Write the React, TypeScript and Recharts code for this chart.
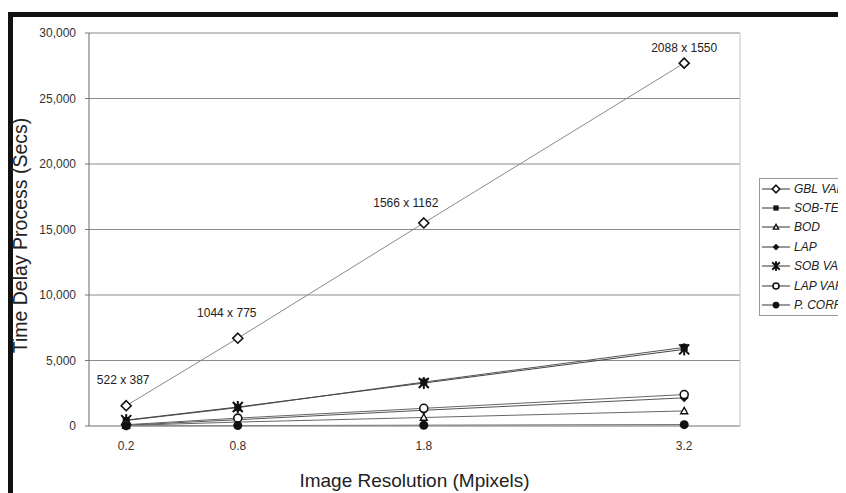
import React from 'react';
import {
  LineChart, Line, XAxis, YAxis, CartesianGrid, LabelList, ReferenceLine,
} from 'recharts';

// image resolution in Mpixels
const resolutions = [0.2, 0.8, 1.8, 3.2];
const sizeLabels = ['522 x 387', '1044 x 775', '1566 x 1162', '2088 x 1550'];

// time delay (secs) per method
const gblVar = [1550, 6700, 15500, 27700];
const sobTen = [420, 1400, 3350, 6000];
const bod = [40, 300, 650, 1150];
const lap = [60, 480, 1200, 2150];
const sobVar = [450, 1450, 3280, 5850];
const lapVar = [100, 600, 1350, 2400];
const pCorr = [10, 30, 60, 100];

const yTicks = [0, 5000, 10000, 15000, 20000, 25000, 30000];

const data = resolutions.map((res, i) => ({
  res,
  size: sizeLabels[i],
  gbl: gblVar[i],
  sobTen: sobTen[i],
  bod: bod[i],
  lap: lap[i],
  sobVar: sobVar[i],
  lapVar: lapVar[i],
  pcorr: pCorr[i],
}));

const series = [
  { key: 'gbl', name: 'GBL VAR', marker: 'diamondOpen', color: '#8a8a8a' },
  { key: 'sobTen', name: 'SOB-TEN', marker: 'square', color: '#555' },
  { key: 'bod', name: 'BOD', marker: 'triangle', color: '#666' },
  { key: 'lap', name: 'LAP', marker: 'diamond', color: '#555' },
  { key: 'sobVar', name: 'SOB VAR', marker: 'star', color: '#444' },
  { key: 'lapVar', name: 'LAP VAR', marker: 'circleOpen', color: '#666' },
  { key: 'pcorr', name: 'P. CORR', marker: 'circle', color: '#555' },
];

const FONT = '"Liberation Sans", Arial, sans-serif';

function Marker({ kind, cx, cy, s = 1 }: { kind: string; cx: number; cy: number; s?: number }) {
  const ink = '#111';
  switch (kind) {
    case 'diamondOpen': {
      const r = 5 * s;
      return <path d={`M${cx},${cy - r}L${cx + r},${cy}L${cx},${cy + r}L${cx - r},${cy}Z`} fill="#fff" stroke={ink} strokeWidth={1.6} />;
    }
    case 'diamond': {
      const r = 4.5 * s;
      return <path d={`M${cx},${cy - r}L${cx + r},${cy}L${cx},${cy + r}L${cx - r},${cy}Z`} fill={ink} />;
    }
    case 'square': {
      const r = 3.5 * s;
      return <rect x={cx - r} y={cy - r} width={2 * r} height={2 * r} fill={ink} />;
    }
    case 'triangle': {
      const r = 3.5 * s;
      return <path d={`M${cx},${cy - r}L${cx + r},${cy + r * 0.8}L${cx - r},${cy + r * 0.8}Z`} fill="#fff" stroke={ink} strokeWidth={1.4} />;
    }
    case 'star': {
      const r = 5 * s;
      return (
        <g stroke={ink} strokeWidth={2}>
          <line x1={cx - r} y1={cy - r} x2={cx + r} y2={cy + r} />
          <line x1={cx - r} y1={cy + r} x2={cx + r} y2={cy - r} />
          <line x1={cx} y1={cy - r - 1} x2={cx} y2={cy + r + 1} />
        </g>
      );
    }
    case 'circleOpen':
      return <circle cx={cx} cy={cy} r={4 * s} fill="#fff" stroke={ink} strokeWidth={1.6} />;
    default:
      return <circle cx={cx} cy={cy} r={4.5 * s} fill={ink} />;
  }
}

// nudges for the resolution labels above the GBL VAR points
const labelDx = [-3, -11, -18, 0];
const labelDy = [-26, -25, -20, -15];

const SizeLabel = (props: any) => {
  const { x, y, value, index } = props;
  return (
    <text x={x + labelDx[index]} y={y + labelDy[index]} textAnchor="middle" dominantBaseline="central"
      fontSize={12} fill="#222" fontFamily={FONT}>
      {value}
    </text>
  );
};

const YTitle = (props: any) => {
  const { viewBox } = props;
  const cx = 12;
  const cy = viewBox.y + viewBox.height / 2 + 6;
  return (
    <text x={cx} y={cy} transform={`rotate(-90 ${cx} ${cy})`} textAnchor="middle"
      dominantBaseline="central" fontSize={19.5} fill="#222" fontFamily={FONT}>
      Time Delay Process (Secs)
    </text>
  );
};

const LegendBox = () => (
  <div style={{
    position: 'absolute', left: 751, top: 170, border: '1px solid #999',
    background: '#fff', width: 140, fontFamily: FONT,
  }}>
    {series.map((s) => (
      <div key={s.key} style={{ display: 'flex', alignItems: 'center', height: 19.4 }}>
        <svg width={30} height={12} style={{ marginLeft: 2, marginRight: 2 }}>
          <line x1={0} y1={6} x2={28} y2={6} stroke="#333" strokeWidth={1} />
          <Marker kind={s.marker} cx={14} cy={6} s={0.75} />
        </svg>
        <span style={{ fontStyle: 'italic', fontSize: 12, color: '#222' }}>{s.name}</span>
      </div>
    ))}
  </div>
);

export default function App() {
  return (
    <div style={{ position: 'relative', width: 838, height: 485, overflow: 'hidden', background: '#fff' }}>
      <div style={{
        position: 'absolute', left: 0, top: 4, width: 1000, height: 1000,
        borderLeft: '5px solid #111', borderTop: '5px solid #111',
      }} />
      <div style={{ position: 'absolute', left: 0, top: 0 }}>
        <LineChart width={838} height={485} data={data}
          margin={{ top: 25, right: 106, bottom: 0, left: 0 }}>
          <CartesianGrid horizontal vertical={false} stroke="#8c8c8c" />
          <ReferenceLine y={30000} stroke="#c4c4c4" />
          <ReferenceLine x={3.5} stroke="#c4c4c4" />
          <XAxis dataKey="res" type="number" domain={[0, 3.5]} ticks={resolutions}
            tickFormatter={(v) => v.toFixed(1)}
            height={67}
            tickLine={false} tickSize={0} tickMargin={15}
            axisLine={{ stroke: '#aaa' }}
            tick={{ fontSize: 12, fill: '#333', fontFamily: FONT }}
            label={{ value: 'Image Resolution (Mpixels)', position: 'insideBottom', offset: 6, fontSize: 19, fill: '#222', fontFamily: FONT }}
          />
          <YAxis width={81} domain={[0, 30000]} ticks={yTicks} interval={0}
            tickFormatter={(v) => v.toLocaleString('en-US')}
            tickSize={4} tickMargin={9}
            tickLine={{ stroke: '#777' }} axisLine={{ stroke: '#666' }}
            tick={{ fontSize: 12, fill: '#333', fontFamily: FONT }}
            label={<YTitle />}
          />
          {series.map((s) => (
            <Line key={s.key} dataKey={s.key} name={s.name} stroke={s.color} strokeWidth={1}
              isAnimationActive={false}
              dot={(p: any) => <Marker key={`${s.key}-${p.index}`} kind={s.marker} cx={p.cx} cy={p.cy} />}
              activeDot={false}>
              {s.key === 'gbl' && <LabelList dataKey="size" content={<SizeLabel />} />}
            </Line>
          ))}
        </LineChart>
      </div>
      <LegendBox />
    </div>
  );
}
